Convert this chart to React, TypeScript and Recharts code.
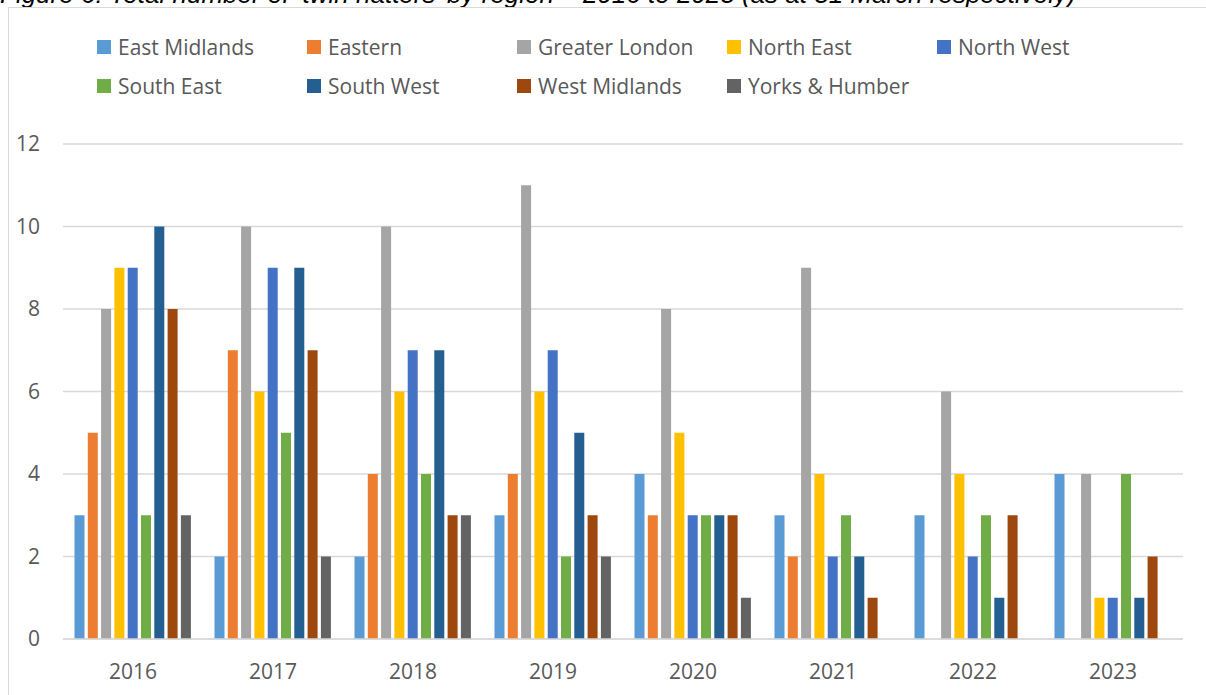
import React from "react";
import { BarChart, Bar, XAxis, YAxis, CartesianGrid, Legend } from "recharts";

const years = ["2016", "2017", "2018", "2019", "2020", "2021", "2022", "2023"];

const regions = [
  "East Midlands",
  "Eastern",
  "Greater London",
  "North East",
  "North West",
  "South East",
  "South West",
  "West Midlands",
  "Yorks & Humber",
];

const regionColors = [
  "#5B9BD5",
  "#ED7D31",
  "#A5A5A5",
  "#FFC000",
  "#4472C4",
  "#70AD47",
  "#255E91",
  "#9E480E",
  "#636363",
];

// counts per region, one value per year (2016 -> 2023)
const eastMidlands = [3, 2, 2, 3, 4, 3, 3, 4];
const eastern = [5, 7, 4, 4, 3, 2, 0, 0];
const greaterLondon = [8, 10, 10, 11, 8, 9, 6, 4];
const northEast = [9, 6, 6, 6, 5, 4, 4, 1];
const northWest = [9, 9, 7, 7, 3, 2, 2, 1];
const southEast = [3, 5, 4, 2, 3, 3, 3, 4];
const southWest = [10, 9, 7, 5, 3, 2, 1, 1];
const westMidlands = [8, 7, 3, 3, 3, 1, 3, 2];
const yorksHumber = [3, 2, 3, 2, 1, 0, 0, 0];

const yTicks = [0, 2, 4, 6, 8, 10, 12];

const seriesValues = [
  eastMidlands,
  eastern,
  greaterLondon,
  northEast,
  northWest,
  southEast,
  southWest,
  westMidlands,
  yorksHumber,
];

const data = years.map((year, i) => {
  const row: Record<string, string | number> = { year };
  regions.forEach((r, j) => {
    row[r] = seriesValues[j][i];
  });
  return row;
});

const FONT = "'Open Sans', sans-serif";
const TEXT = "#595959";
const GRID = "#D9D9D9";

const renderLegend = (props: any) => {
  const payload = props.payload || [];
  return (
    <div
      style={{
        display: "flex",
        flexWrap: "wrap",
        width: 1050,
        fontFamily: FONT,
        fontSize: 21,
        color: TEXT,
      }}
    >
      {payload.map((entry: any) => (
        <div
          key={entry.value}
          style={{ width: 210, height: 39, display: "flex", alignItems: "center" }}
        >
          <span
            style={{
              width: 14,
              height: 14,
              background: entry.color,
              marginRight: 7,
              display: "inline-block",
            }}
          />
          <span>{entry.value}</span>
        </div>
      ))}
    </div>
  );
};

export default function App() {
  return (
    <div style={{ position: "absolute", left: 0, top: 0, width: 1206, height: 695, overflow: "hidden", background: "#fff" }}>
      <div
        style={{
          position: "absolute",
          left: 0,
          top: -19,
          whiteSpace: "nowrap",
          fontFamily: "'Liberation Sans', Arial, sans-serif",
          fontStyle: "italic",
          fontSize: 26,
          lineHeight: "26px",
          color: "#000",
        }}
      >
        Figure 6: Total number of ‘twin hatters’ by region – 2016 to 2023 (as at 31 March respectively)
      </div>
      <div
        style={{
          position: "absolute",
          left: 8,
          top: 7,
          width: 1300,
          height: 800,
          borderTop: `1.5px solid ${GRID}`,
          borderLeft: `1.5px solid ${GRID}`,
        }}
      />
      <div style={{ position: "absolute", left: 0, top: 0 }}>
        <BarChart
          width={1206}
          height={695}
          data={data}
          margin={{ top: 144, right: 23, bottom: 26, left: 0 }}
          barCategoryGap={11.5}
          barGap={3.3}
        >
          <CartesianGrid vertical={false} stroke={GRID} strokeWidth={1.5} />
          <XAxis
            dataKey="year"
            axisLine={{ stroke: GRID, strokeWidth: 1.5 }}
            tickLine={false}
            tickSize={0}
            tickMargin={25}
            height={30}
            tick={{ fill: TEXT, fontFamily: FONT, fontSize: 21 }}
          />
          <YAxis
            domain={[0, 12]}
            ticks={yTicks}
            width={63}
            axisLine={false}
            tickLine={false}
            tickSize={0}
            tickMargin={23}
            tick={{ fill: TEXT, fontFamily: FONT, fontSize: 21 }}
          />
          <Legend
            layout="horizontal"
            verticalAlign="middle"
            align="center"
            wrapperStyle={{ top: 27, left: 97, width: 1050 }}
            content={renderLegend}
          />
          {regions.map((r, j) => (
            <Bar key={r} dataKey={r} fill={regionColors[j]} isAnimationActive={false} />
          ))}
        </BarChart>
      </div>
    </div>
  );
}
